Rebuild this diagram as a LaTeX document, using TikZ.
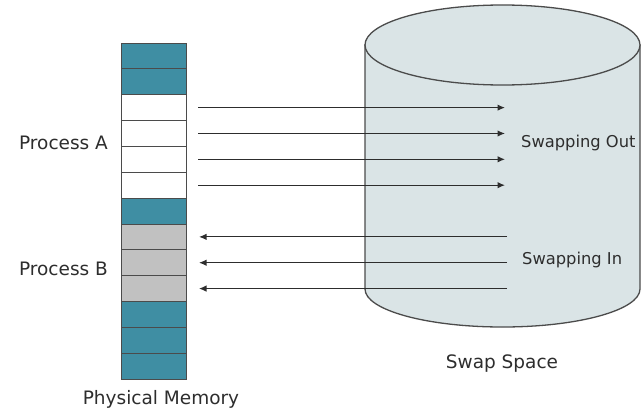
\documentclass[tikz,border=0pt]{standalone}
\usepackage{fontspec}
\setmainfont{DejaVu Sans}
\usetikzlibrary{arrows.meta,calc}
\definecolor{memteal}{RGB}{63,142,163}
\definecolor{memgray}{RGB}{193,193,193}
\definecolor{swapfill}{RGB}{218,228,230}
\definecolor{edgeline}{RGB}{75,75,75}
\definecolor{ink}{RGB}{45,45,45}
\begin{document}
\begin{tikzpicture}[x=1pt,y=-1pt,
  cell/.style={draw=edgeline, line width=0.9pt, minimum width=65pt,
    minimum height=25.85pt, inner sep=0pt, outer sep=0pt, anchor=north west},
  lbl/.style={text=ink, font=\fontsize{18.5}{22}\selectfont, inner sep=0pt, anchor=base},
  sublbl/.style={text=ink, font=\fontsize{16.3}{20}\selectfont, inner sep=0pt, anchor=base west},
  flow/.style={draw=ink, line width=1.2pt, -{Latex[length=7.5pt,width=6.5pt]}},
  disk/.style={draw=edgeline, line width=1.3pt, fill=swapfill}
]
\useasboundingbox (0,0) rectangle (644,412);

% swap space drum
\path[disk] (365,45) -- (365,289)
  arc[start angle=180, end angle=0, x radius=137.5, y radius=38]
  -- (640,45) -- cycle;
\path[disk] (502.5,45) ellipse[x radius=137.5, y radius=40];

% memory frames
\foreach \i/\c in {1/memteal,2/memteal,3/white,4/white,5/white,6/white,
    7/memteal,8/memgray,9/memgray,10/memgray,11/memteal,12/memteal,13/memteal}
  \node[cell, fill=\c] (c\i) at (121,{43+(\i-1)*25.85}) {};

% transfers
\coordinate (swapedge) at (506,0);
\foreach \i in {3,4,5,6}
  \draw[flow] ($(c\i.east)+(12,0)$) -- ($(c\i.east -| swapedge)+(-1,0)$);
\foreach \i in {8,9,10}
  \draw[flow] ($(c\i.east -| swapedge)+(1,0)$) -- ($(c\i.east)+(13,0)$);

% labels
\node[lbl] (pa) at (63.5,149) {Process A};
\node[lbl] (pb) at (63.5,275) {Process B};
\node[lbl] (pm) at (161,404) {Physical Memory};
\node[sublbl] (so) at (521,147) {Swapping Out};
\node[sublbl] (si) at (522,264) {Swapping In};
\node[lbl] (ss) at (502,368) {Swap Space};
\end{tikzpicture}
\end{document}
